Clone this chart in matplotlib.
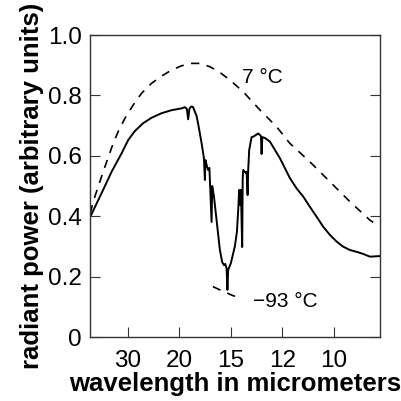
import matplotlib
matplotlib.use("Agg")
import matplotlib.pyplot as plt

plt.rcParams["font.family"] = ["Liberation Sans", "DejaVu Sans"]

# Measured emission spectrum (wavenumber in cm^-1, relative radiant power)
meas_wn = [212.7, 247.4, 279.9, 312.3, 333.7, 355.4, 382.3, 409.6, 442.0, 474.4,
           506.8, 517.5, 524.0, 528.2, 532.1, 537.6, 543.5, 555.5, 560.7, 571.7,
           579.2, 582.4, 584.3, 588.9, 593.1, 597.0, 604.1, 606.1, 611.6, 620.3,
           631.0, 638.5, 644.0, 648.2, 652.8, 655.4, 657.9, 666.7, 679.7, 686.2,
           690.4, 693.6, 695.9, 699.1, 703.3, 705.0, 706.6, 715.3, 717.6, 720.8,
           722.8, 726.0, 733.8, 739.0, 755.2, 764.0, 766.2, 768.5, 776.9, 793.2,
           825.6, 841.8, 858.0, 879.7, 901.1, 922.9, 944.6, 966.0, 987.7, 1009.4,
           1030.8, 1052.6, 1074.3, 1095.7, 1117.4, 1149.8]
meas_power = [0.402, 0.476, 0.547, 0.608, 0.652, 0.682, 0.708, 0.726, 0.741, 0.751,
              0.757, 0.761, 0.755, 0.721, 0.755, 0.763, 0.762, 0.732, 0.705, 0.642,
              0.593, 0.520, 0.586, 0.566, 0.553, 0.560, 0.381, 0.500, 0.467, 0.387,
              0.288, 0.248, 0.238, 0.242, 0.228, 0.156, 0.222, 0.245, 0.301, 0.348,
              0.421, 0.487, 0.437, 0.487, 0.298, 0.526, 0.553, 0.543, 0.547, 0.470,
              0.553, 0.619, 0.662, 0.663, 0.674, 0.666, 0.606, 0.662, 0.659, 0.647,
              0.592, 0.559, 0.526, 0.492, 0.465, 0.431, 0.398, 0.365, 0.338, 0.316,
              0.299, 0.288, 0.282, 0.275, 0.266, 0.268]

# Blackbody curve at 7 °C
warm_wn = [211.1, 220.2, 252.6, 285.1, 301.3, 323.0, 349.9, 377.1, 409.6, 442.0,
           474.4, 506.8, 539.3, 566.2, 598.6, 631.0, 663.5, 706.6, 760.7, 814.9,
           858.0, 922.9, 987.7, 1052.6, 1117.4, 1140.1]
warm_power = [0.410, 0.448, 0.547, 0.641, 0.680, 0.724, 0.768, 0.807, 0.840, 0.864,
              0.884, 0.898, 0.906, 0.906, 0.895, 0.876, 0.851, 0.812, 0.752, 0.696,
              0.641, 0.580, 0.514, 0.448, 0.387, 0.371]

# Blackbody curve at -93 °C (short section near the 15 µm band)
cold_wn = [608.3, 631.0, 653.7, 673.2, 702.4]
cold_power = [0.167, 0.156, 0.146, 0.137, 0.127]

tick_wavelengths = [30, 20, 15, 12, 10]
y_ticks = [0, 0.2, 0.4, 0.6, 0.8, 1.0]
y_labels = ["0", "0.2", "0.4", "0.6", "0.8", "1.0"]

fig = plt.figure(figsize=(4.01, 4.01), dpi=100)
ax = fig.add_axes([90 / 401, 64 / 401, 290 / 401, 302 / 401])

ax.plot(warm_wn, warm_power, color="black", lw=1.2, ls=(0, (5, 4.5)))
ax.plot(cold_wn, cold_power, color="black", lw=1.2, ls=(0, (5, 4.5)))
ax.plot(meas_wn, meas_power, color="black", lw=1.4)

ax.text(770, 0.858, "7 °C", fontsize=15, ha="center", va="center")
ax.text(842, 0.119, "\u221293 °C", fontsize=15, ha="center", va="center")

ax.set_xlim(210, 1150)
ax.set_ylim(0, 1.0)
ax.set_xticks([10000 / w for w in tick_wavelengths])
ax.set_xticklabels([str(w) for w in tick_wavelengths])
ax.set_yticks(y_ticks)
ax.set_yticklabels(y_labels)

ax.tick_params(axis="both", direction="in", length=7.5, width=0.8,
               labelsize=17.5, color="#333333")
ax.tick_params(axis="y", left=True, right=True, pad=6)
ax.tick_params(axis="x", bottom=True, top=False, pad=9.5)
for sp in ax.spines.values():
    sp.set_linewidth(1.0)
    sp.set_color("#333333")

ax.set_xlabel("wavelength in micrometers", fontsize=18.5, fontweight="bold",
              labelpad=0)
ax.set_ylabel("radiant power (arbitrary units)", fontsize=18.5,
              fontweight="bold", labelpad=3)

fig.savefig("out.png", dpi=100)
